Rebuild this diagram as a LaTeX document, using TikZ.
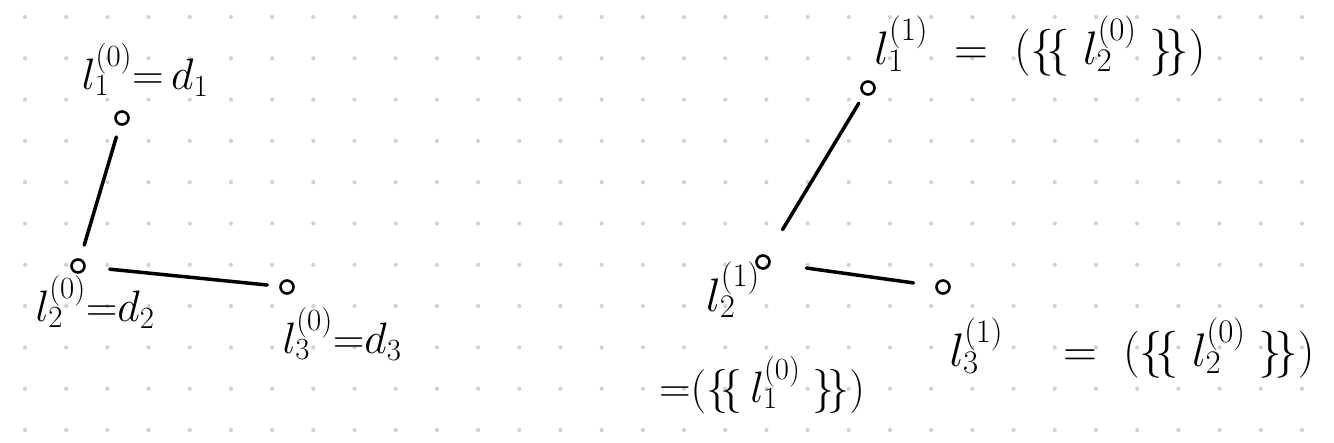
\documentclass[tikz,border=0pt]{standalone}
\usepackage{fix-cm}
\begin{document}
\begin{tikzpicture}[x=1pt,y=-1pt,
  vert/.style={circle,draw,line width=2.6pt,minimum size=13pt,inner sep=0pt},
  edge/.style={line width=3.5pt,line cap=round},
  lab/.style={inner sep=0pt,font=\fontsize{44}{52}\selectfont},
  bigl/.style={inner sep=0pt,font=\fontsize{47}{56}\selectfont},
  griddot/.style={fill=black!18}]
\path[use as bounding box,fill=white] (0,0) rectangle (1334,442);
\foreach \i in {0,...,31}{
  \foreach \j in {0,...,10}{
    \fill[griddot] ({25+41.19*\i},{17+41.3*\j}) circle (2.1pt);
  }
}
% left graph
\node[vert] (a1) at (122,118) {};
\node[vert] (a2) at (78,266) {};
\node[vert] (a3) at (287,287) {};
\node[lab] (la1) at (145,70) {$l_1^{(0)}{=}\,d_1$};
\node[lab] (la2) at (95,302) {$l_2^{(0)}{=}d_2$};
\node[lab] (la3) at (342,334) {$l_3^{(0)}{=}d_3$};
\draw[edge,shorten <=12pt,shorten >=14pt] (a1) -- (a2);
\draw[edge,shorten <=24pt,shorten >=12pt] (a2) -- (a3);
% right graph
\node[vert] (b1) at (868,88) {};
\node[vert] (b2) at (763,262) {};
\node[vert] (b3) at (943,287) {};
\node[bigl] (lb1) at (1040,46) {$l_1^{(1)} \;=\; (\{\!\{\; l_2^{(0)}\; \}\!\})$};
\node[bigl] (lb2) at (733,290) {$l_2^{(1)}$};
\node[lab] (lb2b) at (762,385) {${=}(\{\!\{\, l_1^{(0)}\; \}\!\})$};
\node[bigl] (lb3) at (1132,348) {$l_3^{(1)} \quad=\; (\{\!\{\; l_2^{(0)}\; \}\!\})$};
\draw[edge,shorten <=10pt,shorten >=30pt] (b1) -- (b2);
\draw[edge,shorten <=36pt,shorten >=22pt] (b2) -- (b3);
\end{tikzpicture}
\end{document}
